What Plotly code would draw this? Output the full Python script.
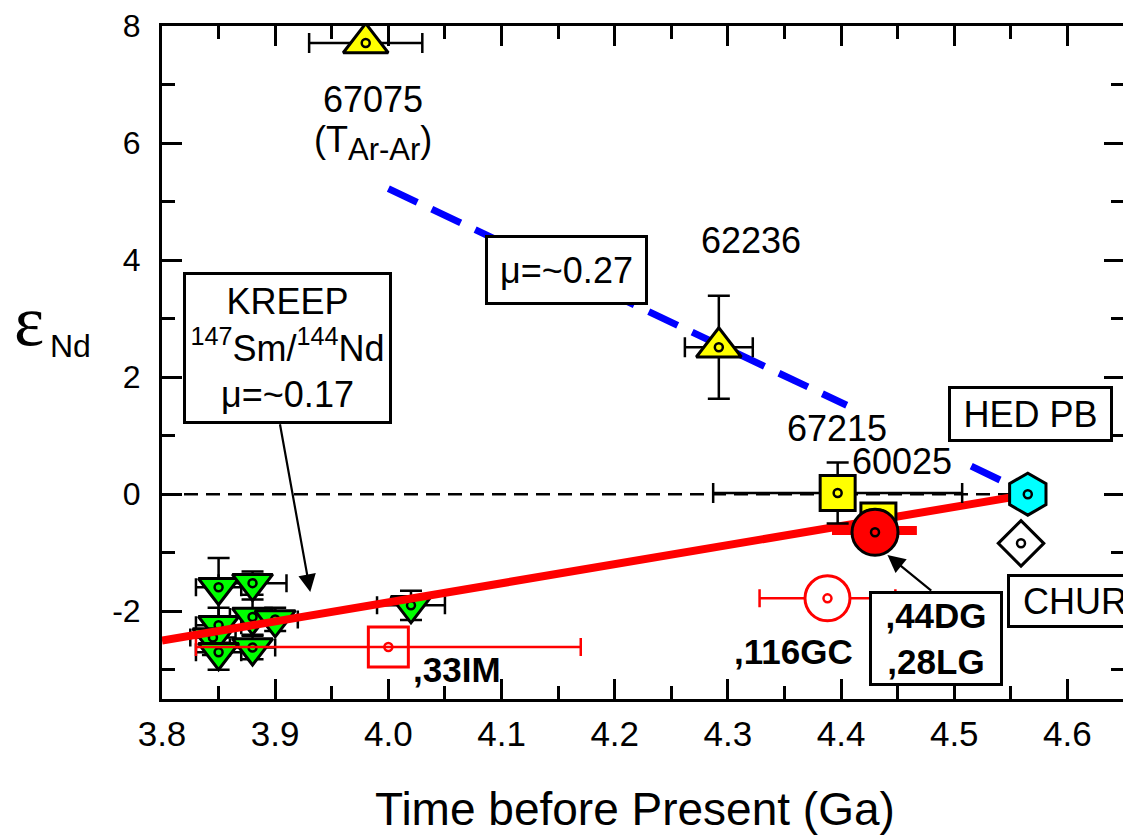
import plotly.graph_objects as go

# ---- data (Ga, epsilon Nd) ----
# yellow lunar samples
yel_name = ["67075", "62236", "67215", "60025"]
yel_x = [3.98, 4.292, 4.397, 4.433]
yel_y = [7.71, 2.51, 0.02, -0.45]
yel_xerr = [0.05, 0.03, 0.11, None]
yel_yerr = [None, 0.88, 0.52, None]
yel_sym = ["triangle-up", "triangle-up", "square", "square"]

# green KREEP basalts
grn_x = [3.85, 3.88, 3.85, 3.88, 3.90, 3.845, 3.88, 3.85, 4.02]
grn_y = [-1.59, -1.52, -2.24, -2.10, -2.14, -2.45, -2.62, -2.70, -1.90]
grn_xerr = [0.02, 0.03, 0.02, 0.02, 0.02, 0.02, 0.02, 0.02, 0.03]
grn_yerr = [0.5, 0.2, 0.3, 0.3, 0.2, 0.3, 0.2, 0.3, 0.25]

# red meteorite samples
dg_x = [4.43]
dg_y = [-0.65]
lens_x = [4.392, 4.467]
lens_y = [-0.62, -0.62]
gc_x = [4.388]
gc_y = [-1.78]
gc_xerr = [0.06]
im_x = [4.0]
im_y = [-2.61]
im_xerr = [0.17]

# reservoirs
hed_x = [4.565]
hed_y = [0.0]
chur_x = [4.559]
chur_y = [-0.84]

# reference lines
zero_x = [3.8, 4.567]
zero_y = [0.0, 0.0]
kreep_x = [3.8, 4.567]
kreep_y = [-2.5, 0.0]
mu27_x = [4.0, 4.405, None, 4.515, 4.56]
mu27_y = [5.22, 1.52, None, 0.48, 0.06]

# axis ticks
x_ticks = [3.8, 3.9, 4.0, 4.1, 4.2, 4.3, 4.4, 4.5, 4.6]
x_labels = ["3.8", "3.9", "4.0", "4.1", "4.2", "4.3", "4.4", "4.5", "4.6"]
y_ticks = [-2, 0, 2, 4, 6, 8]
y_labels = ["-2", "0", "2", "4", "6", "8"]

FONT = "Liberation Sans, Arial, sans-serif"


def dots(x, y, color="black"):
    # small open circle drawn in the middle of every symbol
    return go.Scatter(x=x, y=y, mode="markers", showlegend=False, hoverinfo="skip",
                      marker=dict(symbol="circle-open", size=8, color=color, opacity=1,
                                  line=dict(width=2.5, color=color)))


fig = go.Figure()

fig.add_scatter(x=zero_x, y=zero_y, mode="lines",
                line=dict(color="black", width=2.5, dash="14px,8px"))

fig.add_scatter(x=grn_x, y=grn_y, mode="markers",
                marker=dict(symbol="triangle-down", size=35, color="#00FF00", opacity=1,
                            line=dict(color="black", width=3)),
                error_x=dict(type="data", array=grn_xerr, color="black", thickness=2.5, width=9),
                error_y=dict(type="data", array=grn_yerr, color="black", thickness=2.5, width=11))
fig.add_trace(dots(grn_x, grn_y))

fig.add_scatter(x=kreep_x, y=kreep_y, mode="lines", line=dict(color="#FF0000", width=8))
fig.add_scatter(x=mu27_x, y=mu27_y, mode="lines",
                line=dict(color="#0000FF", width=7, dash="32px,16px"))

fig.add_scatter(x=im_x, y=im_y, mode="markers",
                marker=dict(symbol="square-open", size=40, color="#FF0000", opacity=1,
                            line=dict(color="#FF0000", width=3)),
                error_x=dict(type="data", array=im_xerr, color="#FF0000", thickness=2.5, width=9))
fig.add_trace(dots(im_x, im_y, "#FF0000"))
fig.add_scatter(x=gc_x, y=gc_y, mode="markers",
                marker=dict(symbol="circle", size=45, color="white", opacity=1,
                            line=dict(color="#FF0000", width=3)),
                error_x=dict(type="data", array=gc_xerr, color="#FF0000", thickness=2.5, width=9))
fig.add_trace(dots(gc_x, gc_y, "#FF0000"))

fig.add_scatter(x=yel_x, y=yel_y, mode="markers", text=yel_name, hoverinfo="text",
                marker=dict(symbol=yel_sym, size=[39, 39, 35, 35], color="#FFFF00", opacity=1,
                            line=dict(color="black", width=3)),
                error_x=dict(type="data", array=yel_xerr, color="black", thickness=2.5, width=10),
                error_y=dict(type="data", array=yel_yerr, color="black", thickness=2.5, width=11))
fig.add_trace(dots(yel_x, yel_y))

fig.add_scatter(x=lens_x, y=lens_y, mode="lines", line=dict(color="#FF0000", width=9))
fig.add_scatter(x=dg_x, y=dg_y, mode="markers",
                marker=dict(symbol="circle", size=46, color="#FF0000", opacity=1,
                            line=dict(color="black", width=3)))
fig.add_trace(dots(dg_x, dg_y))

fig.add_scatter(x=hed_x, y=hed_y, mode="markers",
                marker=dict(symbol="hexagon", size=42, color="#00FFFF", opacity=1,
                            line=dict(color="black", width=3)))
fig.add_trace(dots(hed_x, hed_y))
fig.add_scatter(x=chur_x, y=chur_y, mode="markers",
                marker=dict(symbol="diamond", size=35, color="white", opacity=1,
                            line=dict(color="black", width=3)))
fig.add_trace(dots(chur_x, chur_y))

txt = dict(family=FONT, size=36, color="black")
bold = dict(family=FONT, size=35, color="black", weight="bold")

labels = [
    (3.986, 6.74, "67075", txt),
    (3.986, 6.0, "(T<sub><span style='font-size:31px'>Ar-Ar</span></sub>)", txt),
    (4.320, 4.34, "62236", txt),
    (4.396, 1.13, "67215", txt),
    (4.454, 0.55, "60025", txt),
    (4.358, -2.68, ",116GC", bold),
    (4.061, -3.0, ",33IM", bold),
]
for x, y, t, f in labels:
    fig.add_annotation(x=x, y=y, text=t, showarrow=False, font=f,
                       xanchor="center", yanchor="middle")

boxes = [
    (3.911, 2.50, "KREEP<br><sup>147</sup>Sm/<sup>144</sup>Nd<br>μ=~0.17", txt, 203, 146),
    (4.157, 3.83, "μ=~0.27", txt, 157, 64),
    (4.567, 1.37, "HED PB", txt, 159, 50),
    (4.607, -1.83, "CHUR", txt, 130, 48),
    (4.484, -2.46, ",44DG<br>,28LG", bold, 128, 89),
]
for x, y, t, f, w, h in boxes:
    fig.add_annotation(x=x, y=y, text=t, showarrow=False, font=f, width=w, height=h,
                       xanchor="center", yanchor="middle",
                       bgcolor="white", bordercolor="black", borderwidth=3, borderpad=0)

# arrows from the boxes to the data
fig.add_annotation(x=3.931, y=-1.67, ax=3.904, ay=1.22, axref="x", ayref="y", text="",
                   showarrow=True, arrowhead=2, arrowsize=1.6, arrowwidth=2.2, arrowcolor="black")
fig.add_annotation(x=4.441, y=-1.04, ax=4.481, ay=-1.67, axref="x", ayref="y", text="",
                   showarrow=True, arrowhead=2, arrowsize=1.6, arrowwidth=2.2, arrowcolor="black")

# axis titles
fig.add_annotation(xref="paper", yref="paper", x=0.4917, y=-0.164, text="Time before Present (Ga)",
                   xanchor="center", yanchor="middle", showarrow=False,
                   font=dict(family=FONT, size=46, color="black"))
fig.add_annotation(xref="paper", yref="paper", x=-0.138, y=0.562, text="ε",
                   xanchor="center", yanchor="middle", showarrow=False,
                   font=dict(family="Liberation Serif, serif", size=72, color="black"))
fig.add_annotation(xref="paper", yref="paper", x=-0.0956, y=0.525, text="Nd",
                   xanchor="center", yanchor="middle", showarrow=False,
                   font=dict(family=FONT, size=32, color="black"))

axis_common = dict(showline=True, linewidth=3, linecolor="black", mirror="ticks",
                   ticks="inside", ticklen=20, tickwidth=3, tickcolor="black",
                   showgrid=False, zeroline=False, automargin=False)

fig.update_xaxes(range=[3.8, 4.65], tickvals=x_ticks, ticktext=x_labels,
                 tickfont=dict(family=FONT, size=35, color="black"), ticklabelstandoff=2,
                 minor=dict(dtick=0.05, tick0=3.8, ticks="inside", ticklen=13, tickwidth=3,
                            tickcolor="black"),
                 **axis_common)
fig.update_yaxes(range=[-3.5, 8], tickvals=y_ticks, ticktext=y_labels,
                 tickfont=dict(family=FONT, size=32, color="black"), ticklabelstandoff=12,
                 minor=dict(dtick=1, tick0=0, ticks="inside", ticklen=13, tickwidth=3,
                            tickcolor="black"),
                 **axis_common)

# the page adds an 8 px body margin, so the plot box is set 8 px up and left
fig.update_layout(width=1131, height=835, showlegend=False,
                  margin=dict(l=154, r=15, t=18, b=144),
                  plot_bgcolor="white", paper_bgcolor="white")

fig.write_html("out.html")
